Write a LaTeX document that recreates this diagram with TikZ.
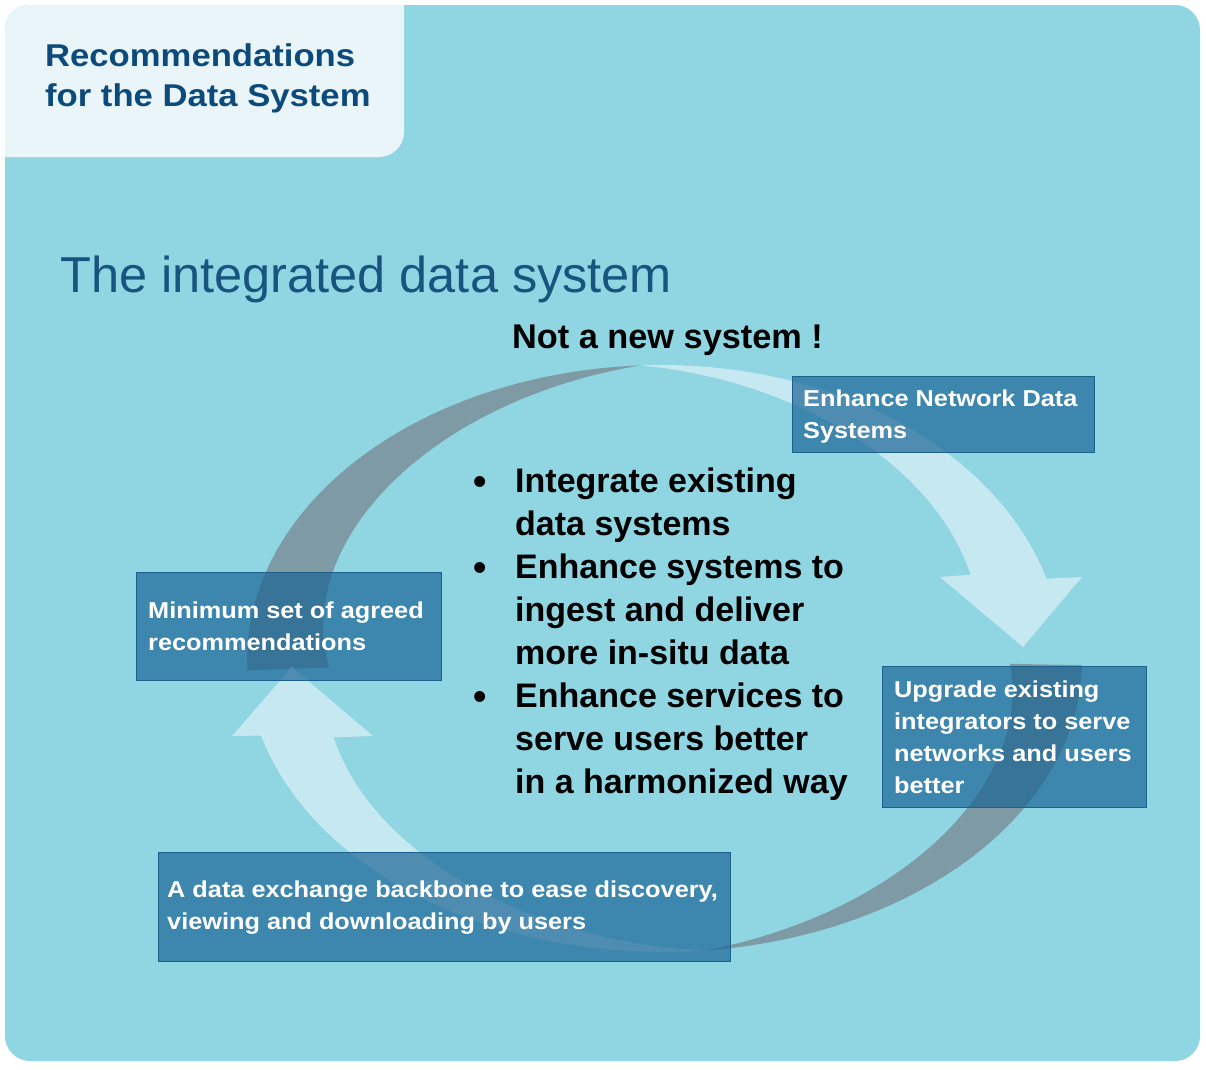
\documentclass[tikz,border=0pt]{standalone}
\usepackage{fontspec}
\setmainfont{Liberation Sans}
\newfontfamily\boxfont[FakeStretch=1.1]{Liberation Sans}
\definecolor{pagebg}{RGB}{143,213,226}
\definecolor{tabbg}{RGB}{234,245,250}
\definecolor{titlecol}{RGB}{11,74,122}
\definecolor{headcol}{RGB}{23,85,127}
\definecolor{darkband}{RGB}{126,154,165}
\definecolor{lightband}{RGB}{198,232,240}
\definecolor{boxfill}{RGB}{22,96,147}
\definecolor{boxline}{RGB}{29,96,140}
\tikzset{
  txt/.style={inner sep=0pt, anchor=base west},
  infobox/.style={draw=boxline, line width=1.2pt, fill=boxfill, fill opacity=0.67,
    draw opacity=1, anchor=north west, inner sep=0pt},
  boxtext/.style={text=white, anchor=west, align=left, inner sep=0pt,
    font=\boxfont\bfseries\fontsize{23}{32}\selectfont},
  bullettext/.style={txt, font=\bfseries\fontsize{34}{43}\selectfont, text=black},
  bulletdot/.style={txt, font=\bfseries\fontsize{38}{38}\selectfont, text=black},
}
\begin{document}
\begin{tikzpicture}[x=1pt,y=-1pt]
\useasboundingbox (0,0) rectangle (1206,1069);
\fill[white] (0,0) rectangle (1206,1069);
% panel
\fill[pagebg, rounded corners=25pt] (5,5) rectangle (1200,1061);
\begin{scope}
  \clip[rounded corners=25pt] (5,5) rectangle (1200,1061);
  \fill[tabbg, rounded corners=25pt] (-60,-60) rectangle (404,157);
\end{scope}
% title
\node[txt, font=\boxfont\bfseries\fontsize{31.5}{40}\selectfont, text=titlecol] (t1) at (45,66) {Recommendations};
\node[txt, font=\boxfont\bfseries\fontsize{31.5}{40}\selectfont, text=titlecol] (t2) at (45,106) {for the Data System};
% heading
\node[txt, font=\fontsize{50.5}{60}\selectfont, text=headcol] (head) at (60,292) {The integrated data system};
\node[txt, font=\bfseries\fontsize{34.3}{43}\selectfont, text=black] (notnew) at (512,348) {Not a new system !};
% dark crescents
\fill[darkband] plot[domain=93:182,samples=70,variable=\t] ({662+415*cos(\t)},{660-295*sin(\t)})
  -- plot[domain=182:93,samples=70,variable=\t] ({662+(415-82*(\t-93)/89)*cos(\t)},{660-(295-82*(\t-93)/89)*sin(\t)}) -- cycle;
\fill[darkband] plot[domain=276:359,samples=70,variable=\t] ({662+420*cos(\t)},{660-292*sin(\t)})
  -- plot[domain=359:276,samples=70,variable=\t] ({662+(420-72*(\t-276)/83)*cos(\t)},{660-(292-72*(\t-276)/83)*sin(\t)}) -- cycle;
% light arrows
\fill[lightband] plot[domain=93:16,samples=70,variable=\t] ({662+400*cos(\t)},{660-295*sin(\t)})
  -- (1082,577) -- (1023,647) -- (940,577)
  -- plot[domain=22:93,samples=70,variable=\t] ({662+(400-73*(93-\t)/77)*cos(\t)},{660-(295-73*(93-\t)/77)*sin(\t)}) -- cycle;
\fill[lightband] plot[domain=276:195,samples=70,variable=\t] ({662+415*cos(\t)},{660-292*sin(\t)})
  -- (232,736) -- (292,667) -- (373,736)
  -- plot[domain=200:276,samples=70,variable=\t] ({662+(415-70*(276-\t)/81)*cos(\t)},{660-(292-70*(276-\t)/81)*sin(\t)}) -- cycle;
% boxes
\node[infobox, minimum width=302pt, minimum height=76pt] (enh) at (792,376) {};
\node[boxtext] (enht) at ([xshift=11pt,yshift=-2pt]enh.west) {Enhance Network Data\\Systems};
\node[infobox, minimum width=305pt, minimum height=108pt] (mini) at (136,572) {};
\node[boxtext] (minit) at ([xshift=12pt]mini.west) {Minimum set of agreed\\recommendations};
\node[infobox, minimum width=264pt, minimum height=141pt] (upg) at (882,666) {};
\node[boxtext] (upgt) at ([xshift=12pt]upg.west) {Upgrade existing\\integrators to serve\\networks and users\\better};
\node[infobox, minimum width=572pt, minimum height=109pt] (bb) at (158,852) {};
\node[boxtext] (bbt) at ([xshift=9pt]bb.west) {A data exchange backbone to ease discovery,\\viewing and downloading by users};
% bullets
\foreach \y/\n in {492/d1,578/d2,707/d3}{
  \node[bulletdot] (\n) at (473,\y+2) {\textbullet};
}
\node[bullettext] (l1) at (515,492) {Integrate existing};
\node[bullettext] (l2) at (515,535) {data systems};
\node[bullettext] (l3) at (515,578) {Enhance systems to};
\node[bullettext] (l4) at (515,621) {ingest and deliver};
\node[bullettext] (l5) at (515,664) {more in-situ data};
\node[bullettext] (l6) at (515,707) {Enhance services to};
\node[bullettext] (l7) at (515,750) {serve users better};
\node[bullettext] (l8) at (515,793) {in a harmonized way};
\end{tikzpicture}
\end{document}
